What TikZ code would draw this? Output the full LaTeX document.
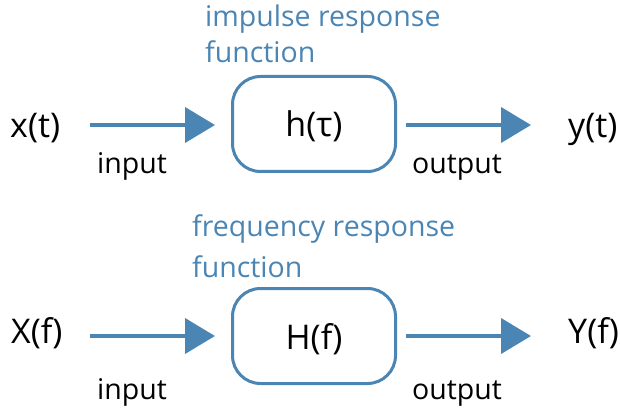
\documentclass[tikz,border=0pt]{standalone}
\usepackage{fontspec}
\setmainfont{Open Sans}
\usetikzlibrary{arrows.meta}
\definecolor{sigblue}{HTML}{4A85B4}
\begin{document}
\begin{tikzpicture}[x=1pt,y=1pt,
  bigtxt/.style={inner sep=0pt,anchor=base west,font=\fontsize{34}{40}\selectfont},
  smalltxt/.style={inner sep=0pt,anchor=base west,font=\fontsize{28.5}{34}\selectfont},
  bluetxt/.style={smalltxt,text=sigblue},
  sysbox/.style={draw=sigblue,line width=3pt,rounded corners=28pt,minimum width=163pt,minimum height=95pt,
    inner sep=0pt,text height=30pt,text depth=4pt,font=\fontsize{34}{40}\selectfont},
  arr/.style={draw=sigblue,line width=4pt,-{Triangle[length=30pt,width=35pt]}}
]
\useasboundingbox (0,0) rectangle (620,-411);

% top row
\node[bluetxt] (t1a) at (205,-27) {impulse response};
\node[bluetxt] (t1b) at (205,-63) {function};
\node[sysbox] (h) at (314,-124) {h(τ)};
\node[bigtxt] (x) at (10,-138) {x(t)};
\node[bigtxt] (y) at (568,-138) {y(t)};
\node[smalltxt] (in1) at (97,-174) {input};
\node[smalltxt] (out1) at (412,-174) {output};
\coordinate (a1s) at (90,-125);
\coordinate (a1e) at (215,-125);
\coordinate (b1s) at (406,-125);
\coordinate (b1e) at (531,-125);
\draw[arr] (a1s) -- (a1e);
\draw[arr] (b1s) -- (b1e);

% bottom row
\node[bluetxt] (t2a) at (192,-237) {frequency response};
\node[bluetxt] (t2b) at (192,-277) {function};
\node[sysbox] (H) at (314,-336) {H(f)};
\node[bigtxt] (X) at (11,-343) {X(f)};
\node[bigtxt] (Y) at (568,-343) {Y(f)};
\node[smalltxt] (in2) at (97,-399) {input};
\node[smalltxt] (out2) at (412,-399) {output};
\coordinate (a2s) at (90,-336);
\coordinate (a2e) at (215,-336);
\coordinate (b2s) at (406,-336);
\coordinate (b2e) at (531,-336);
\draw[arr] (a2s) -- (a2e);
\draw[arr] (b2s) -- (b2e);
\end{tikzpicture}
\end{document}
